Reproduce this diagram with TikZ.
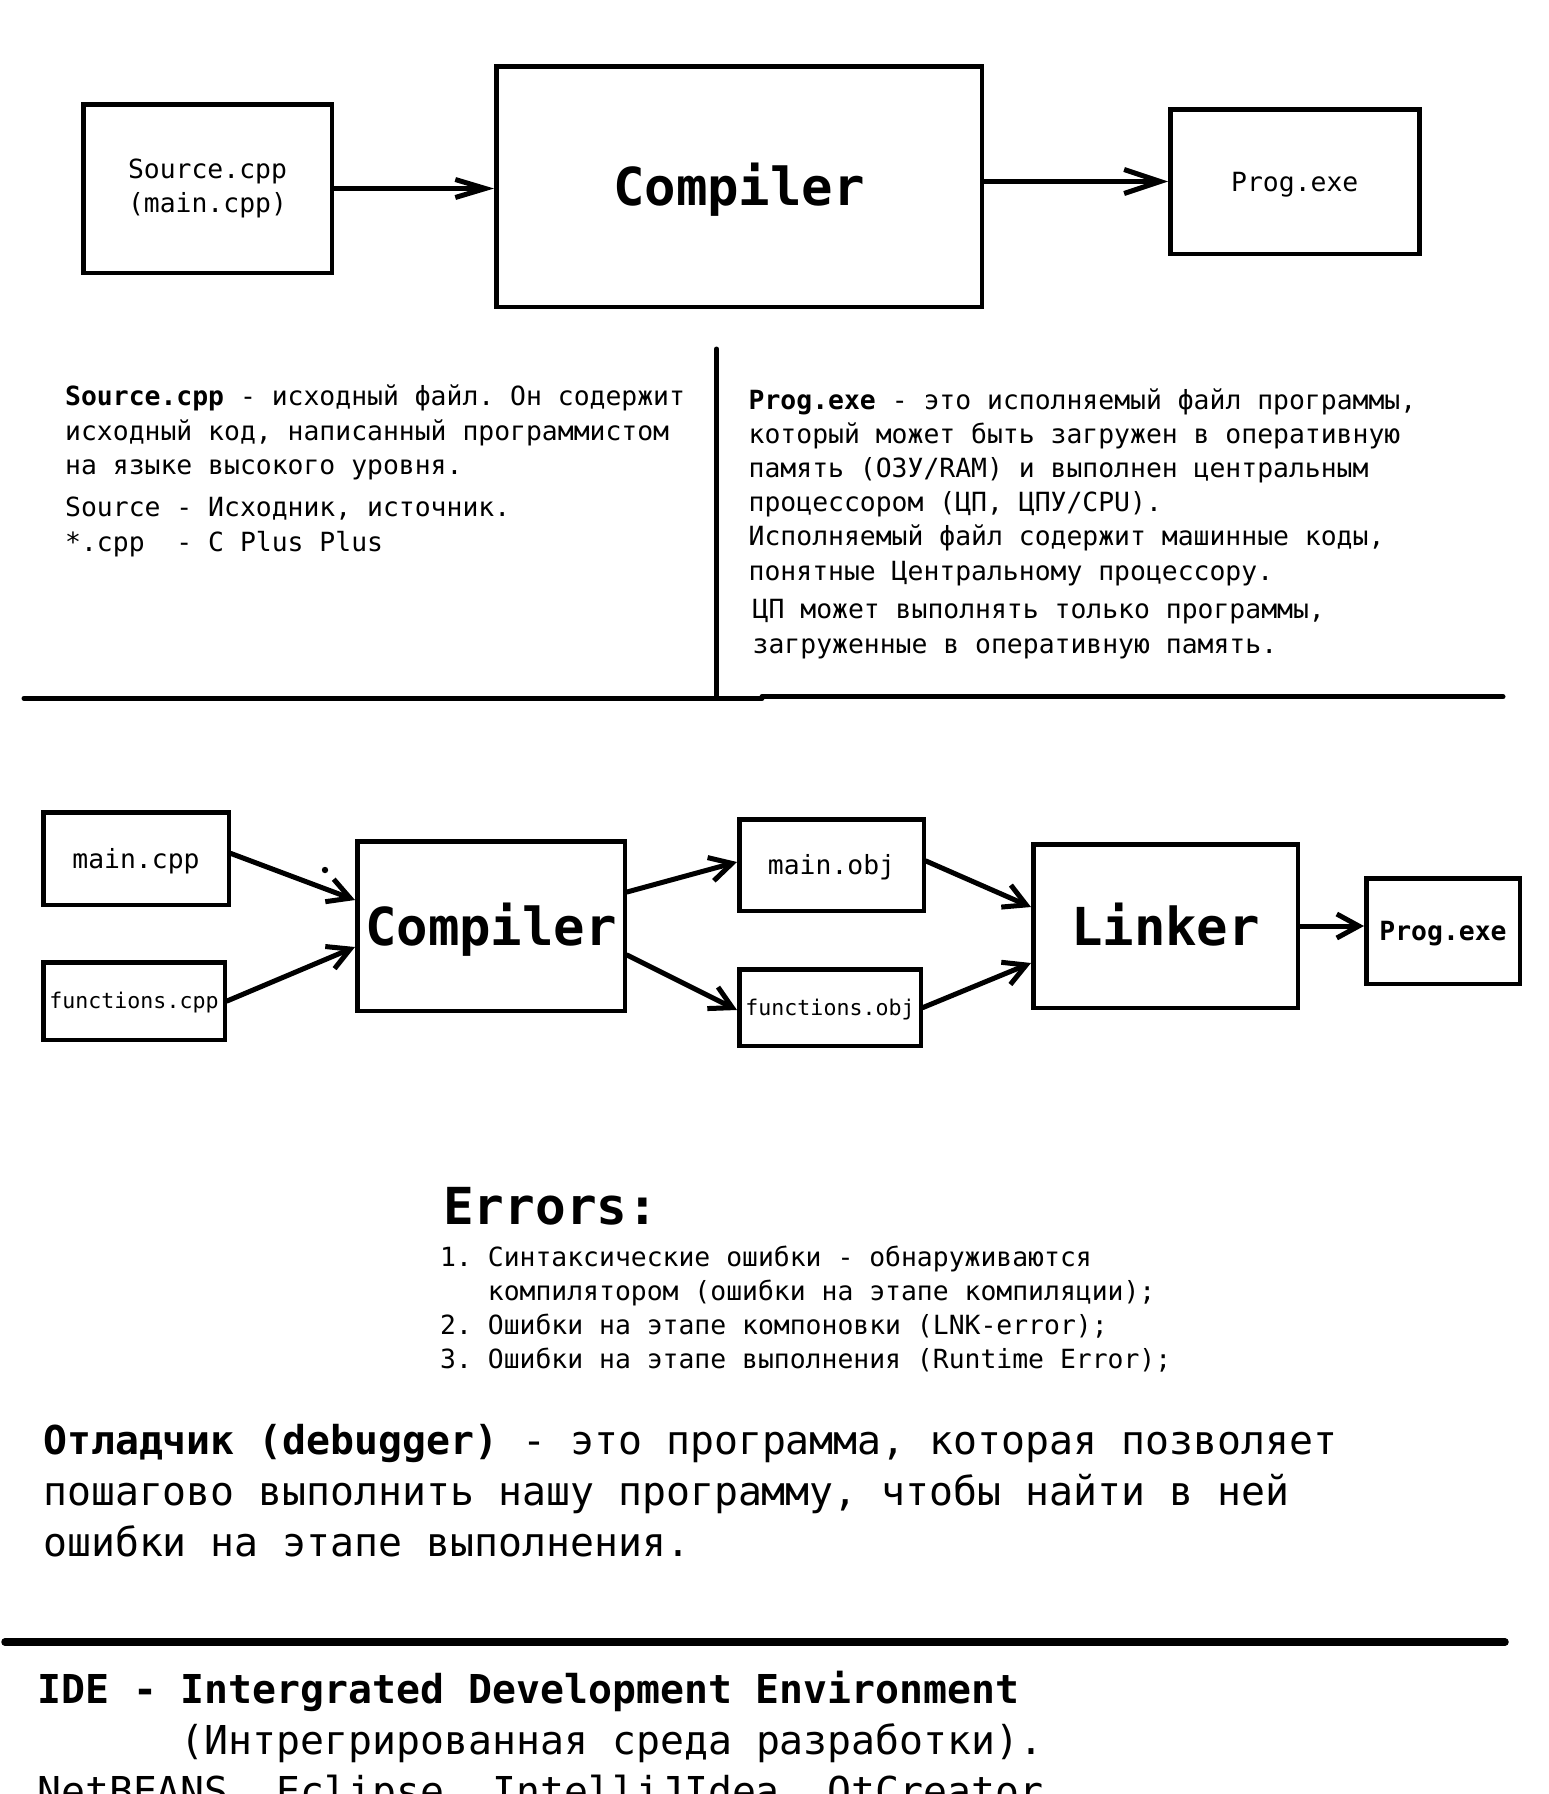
\documentclass[tikz,border=0pt]{standalone}
\usepackage{fontspec}
\setmainfont{DejaVu Sans Mono}
\usetikzlibrary{arrows.meta}
\newcommand\txtbody{\fontsize{26.4pt}{34.5pt}\selectfont}
\newcommand\txtsmall{\fontsize{21.6pt}{26pt}\selectfont}
\newcommand\txtbig{\fontsize{52.3pt}{60pt}\selectfont\bfseries}
\newcommand\txtlarge{\fontsize{39.8pt}{51pt}\selectfont}
\begin{document}
\frenchspacing
\begin{tikzpicture}[x=1pt,y=-1pt,
  box/.style={draw,line width=4.5pt,inner sep=0pt,align=center},
  capbig/.style={text height=38pt,text depth=0pt},
  capmed/.style={text height=19pt,text depth=0pt},
  capsmall/.style={text height=15.7pt,text depth=0pt},
  para/.style={inner sep=0pt,align=left,anchor=base west},
  conn/.style={line width=5pt,line cap=round,
    -{Straight Barb[length=22pt,width=24pt]}},
  rule/.style={line width=5pt,line cap=round}]
\useasboundingbox[fill=white] (0,0) rectangle (1548,1794);

% ---- top: one source file through the compiler
\node[box,font=\txtbody,minimum width=248.5pt,minimum height=168.5pt]
  (src) at (207.5,188.5) {Source.cpp\\(main.cpp)};
\node[box,capbig,font=\txtbig,minimum width=485.5pt,minimum height=240.5pt]
  (comp) at (739,186.5) {Compiler};
\node[box,capmed,font=\txtbody,minimum width=249pt,minimum height=144.5pt]
  (exe) at (1294.75,181.5) {Prog.exe};
\draw[line width=5pt,-{Straight Barb[length=30pt,width=18pt]}]
  (src.east) -- (src.east -| comp.west);
\draw[line width=5pt,-{Straight Barb[length=36pt,width=24pt]}]
  (exe.west -| comp.east) -- (exe.west);

% ---- notes under the top diagram (anchored at the last baseline)
\node[para,font=\txtbody] (srcnote) at (65,474.5)
  {\textbf{Source.cpp} - исходный файл. Он содержит\\
   исходный код, написанный программистом\\
   на языке высокого уровня.};
\node[para,font=\txtbody] (srcword) at (65,551)
  {Source - Исходник, источник.\\
   *.cpp\ \ - C Plus Plus};
\node[para,font=\fontsize{26.4pt}{34.1pt}\selectfont] (exenote) at (748.5,580)
  {\textbf{Prog.exe} - это исполняемый файл программы,\\
   который может быть загружен в оперативную\\
   память (ОЗУ/RAM) и выполнен центральным\\
   процессором (ЦП, ЦПУ/CPU).\\
   Исполняемый файл содержит машинные коды,\\
   понятные Центральному процессору.};
\node[para,font=\fontsize{26.4pt}{35pt}\selectfont] (cpunote) at (752.5,653.3)
  {ЦП может выполнять только программы,\\
   загруженные в оперативную память.};
\coordinate (divtop) at (716.5,349);
\coordinate (divbot) at (716.5,697.5);
\coordinate (ruleL) at (24,698.3);
\coordinate (ruleM) at (762,698.3);
\coordinate (ruleN) at (762,696.7);
\coordinate (ruleR) at (1503,696.7);
\draw[rule] (divtop) -- (divbot);
\draw[rule] (ruleL) -- (ruleM);
\draw[rule] (ruleN) -- (ruleR);

% ---- middle: two files, compiler, linker
\node[box,capmed,font=\txtbody,minimum width=185.5pt,minimum height=92.5pt]
  (mcpp) at (136,858.5) {main.cpp};
\node[box,capsmall,font=\txtsmall,minimum width=181.5pt,minimum height=77.5pt]
  (fcpp) at (134,1001) {functions.cpp};
\node[box,capbig,font=\txtbig,minimum width=267.5pt,minimum height=169.5pt]
  (mcomp) at (491,926) {Compiler};
\node[box,capmed,font=\txtbody,minimum width=184.5pt,minimum height=91.5pt]
  (mobj) at (831.5,865) {main.obj};
\node[box,capsmall,font=\txtsmall,minimum width=181.5pt,minimum height=76.5pt]
  (fobj) at (830,1007.5) {functions.obj};
\node[box,capbig,font=\txtbig,minimum width=264.5pt,minimum height=163.5pt]
  (link) at (1165.5,926) {Linker};
\node[box,capmed,font=\txtbody\bfseries,minimum width=153.5pt,minimum height=105.5pt]
  (prog) at (1443,931) {Prog.exe};

\draw[conn] ([yshift=5pt]mcpp.east) -- ([yshift=26pt]mcomp.west);
\draw[conn] (fcpp.east) -- ([yshift=-21pt]mcomp.west);
\draw[conn] ([yshift=34pt]mcomp.east) -- ([yshift=3pt]mobj.west);
\draw[conn] ([yshift=-29pt]mcomp.east) -- ([yshift=-2.5pt]fobj.west);
\draw[conn] ([yshift=4pt]mobj.east) -- ([yshift=19pt]link.west);
\draw[conn] (fobj.east) -- ([yshift=-37pt]link.west);
\draw[conn] (link.east) -- (link.east -| prog.west);
\fill (325,870) circle (3.2pt);

% ---- errors
\node[para,font=\fontsize{51pt}{58pt}\selectfont\bfseries] (errhead) at (443,1224) {Errors:};
\node[para,font=\fontsize{26.4pt}{34pt}\selectfont] (errlist) at (440,1368)
  {1. Синтаксические ошибки - обнаруживаются\\
   \hphantom{1. }компилятором (ошибки на этапе компиляции);\\
   2. Ошибки на этапе компоновки (LNK-error);\\
   3. Ошибки на этапе выполнения (Runtime Error);};

% ---- debugger
\node[para,font=\txtlarge] (dbg) at (43,1556)
  {\textbf{Отладчик (debugger)} - это программа, которая позволяет\\
   пошагово выполнить нашу программу, чтобы найти в ней\\
   ошибки на этапе выполнения.};
\coordinate (lowL) at (5,1642);
\coordinate (lowR) at (1505,1642);
\draw[line width=7.5pt,line cap=round] (lowL) -- (lowR);

% ---- IDE
\node[para,font=\txtlarge] (ide) at (37,1805)
  {\textbf{IDE - Intergrated Development Environment}\\
   \hphantom{000000}(Интрегрированная среда разработки).\\
   NetBEANS, Eclipse, IntelliJIdea, QtCreator};
\end{tikzpicture}
\end{document}
